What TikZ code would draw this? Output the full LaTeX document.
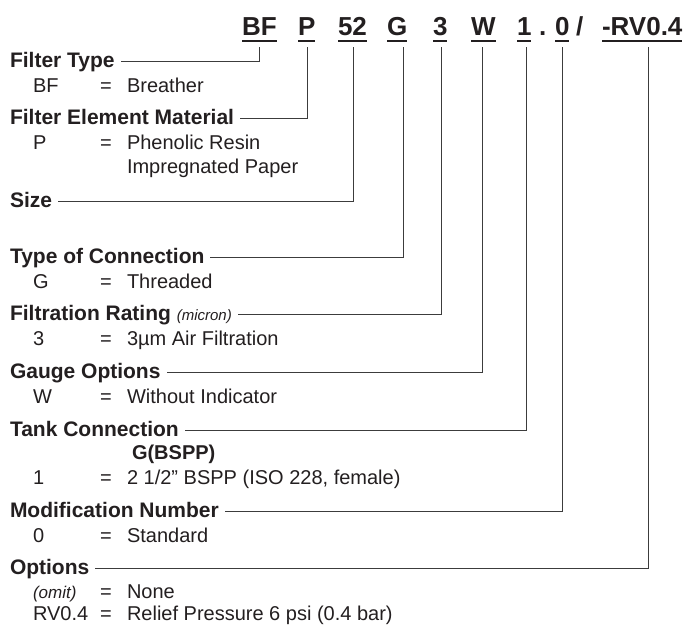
\documentclass[tikz,border=0pt]{standalone}
\usepackage{fontspec}
\setmainfont{Liberation Sans}
\usetikzlibrary{calc}
\definecolor{ink}{HTML}{231F20}
\definecolor{rulec}{HTML}{3C3C3C}
\begin{document}
\begin{tikzpicture}[x=1pt,y=-1pt,
  txt/.style={inner sep=0pt, outer sep=0pt, anchor=base west, text=ink},
  lab/.style={txt, font=\fontsize{21}{24}\selectfont\bfseries},
  val/.style={txt, font=\fontsize{20}{24}\selectfont},
  code/.style={txt, font=\fontsize{26}{30}\selectfont\bfseries},
  leader/.style={draw=rulec, line width=1pt},
  uline/.style={draw=ink, line width=1.6pt}]
\fill[white] (0,0) rectangle (689,629);
\useasboundingbox (0,0) rectangle (689,629);

% header code
\node[code] (cBF) at (242,35) {BF};
\node[code] (cP) at (298,35) {P};
\node[code] (c52) at (338,35) {52};
\node[code] (cG) at (387,35) {G};
\node[code] (c3) at (433,35) {3};
\node[code] (cW) at (471,35) {W};
\node[code] (c1) at (517,35) {1};
\node[code] (cdot) at (539,35) {.};
\node[code] (c0) at (555,35) {0};
\node[code] (cslash) at (576,35) {/};
\node[code] (cRV) at (602,35) {-RV0.4};
\foreach \n in {cBF,cP,c52,cG,c3,cW,c1,c0,cRV}
  \draw[uline] ($(\n.base west)+(0,6)$) -- ($(\n.base east)+(0,6)$);

\coordinate (vBF) at (259,47);
\coordinate (vP) at (307,47);
\coordinate (v52) at (353,47);
\coordinate (vG) at (403,47);
\coordinate (v3) at (441,47);
\coordinate (vW) at (482,47);
\coordinate (v1) at (526,47);
\coordinate (v0) at (562,47);
\coordinate (vRV) at (648,47);

% Filter type
\node[lab] (lFT) at (10,67.5) {Filter Type};
\node[val] (kBF) at (33,92) {BF};
\node[val] (eBF) at (100,92) {=};
\node[val] (dBF) at (127,92) {Breather};
% Filter element material
\node[lab] (lFEM) at (10,124) {Filter Element Material};
\node[val] (kP) at (33,149) {P};
\node[val] (eP) at (100,149) {=};
\node[val] (dP) at (127,149) {Phenolic Resin};
\node[val] (dP2) at (127,173) {Impregnated Paper};
% Size
\node[lab] (lSize) at (10,207) {Size};
% Type of connection
\node[lab] (lTOC) at (10,263) {Type of Connection};
\node[val] (kG) at (33,288) {G};
\node[val] (eG) at (100,288) {=};
\node[val] (dG) at (127,288) {Threaded};
% Filtration rating
\node[lab] (lFR) at (10,320) {Filtration Rating \textmd{\itshape\fontsize{15}{18}\selectfont (micron)}};
\node[val] (k3) at (33,345) {3};
\node[val] (e3) at (100,345) {=};
\node[val] (d3) at (127,345) {3µm Air Filtration};
% Gauge options
\node[lab] (lGO) at (10,378) {Gauge Options};
\node[val] (kW) at (33,403) {W};
\node[val] (eW) at (100,403) {=};
\node[val] (dW) at (127,403) {Without Indicator};
% Tank connection
\node[lab] (lTC) at (10,436) {Tank Connection};
\node[lab, font=\fontsize{20}{22}\selectfont\bfseries] (hTC) at (132,459) {G(BSPP)};
\node[val] (k1) at (33,484) {1};
\node[val] (e1) at (100,484) {=};
\node[val] (d1) at (127,484) {2 1/2” BSPP (ISO 228, female)};
% Modification number
\node[lab] (lMN) at (10,517) {Modification Number};
\node[val] (k0) at (33,542) {0};
\node[val] (e0) at (100,542) {=};
\node[val] (d0) at (127,542) {Standard};
% Options
\node[lab] (lOP) at (10,574) {Options};
\node[val, font=\fontsize{17}{20}\selectfont\itshape] (kOM) at (33,598) {(omit)};
\node[val] (eOM) at (100,598) {=};
\node[val] (dOM) at (127,598) {None};
\node[val] (kRV) at (33,620) {RV0.4};
\node[val] (eRV) at (100,620) {=};
\node[val] (dRV) at (127,620) {Relief Pressure 6 psi (0.4 bar)};

% leaders
\draw[leader] (vBF) |- ($(lFT.base east)+(6,-6)$);
\draw[leader] (vP) |- ($(lFEM.base east)+(6,-6)$);
\draw[leader] (v52) |- ($(lSize.base east)+(6,-6)$);
\draw[leader] (vG) |- ($(lTOC.base east)+(6,-6)$);
\draw[leader] (v3) |- ($(lFR.base east)+(6,-6)$);
\draw[leader] (vW) |- ($(lGO.base east)+(6,-6)$);
\draw[leader] (v1) |- ($(lTC.base east)+(6,-6)$);
\draw[leader] (v0) |- ($(lMN.base east)+(6,-6)$);
\draw[leader] (vRV) |- ($(lOP.base east)+(6,-6)$);
\end{tikzpicture}
\end{document}
